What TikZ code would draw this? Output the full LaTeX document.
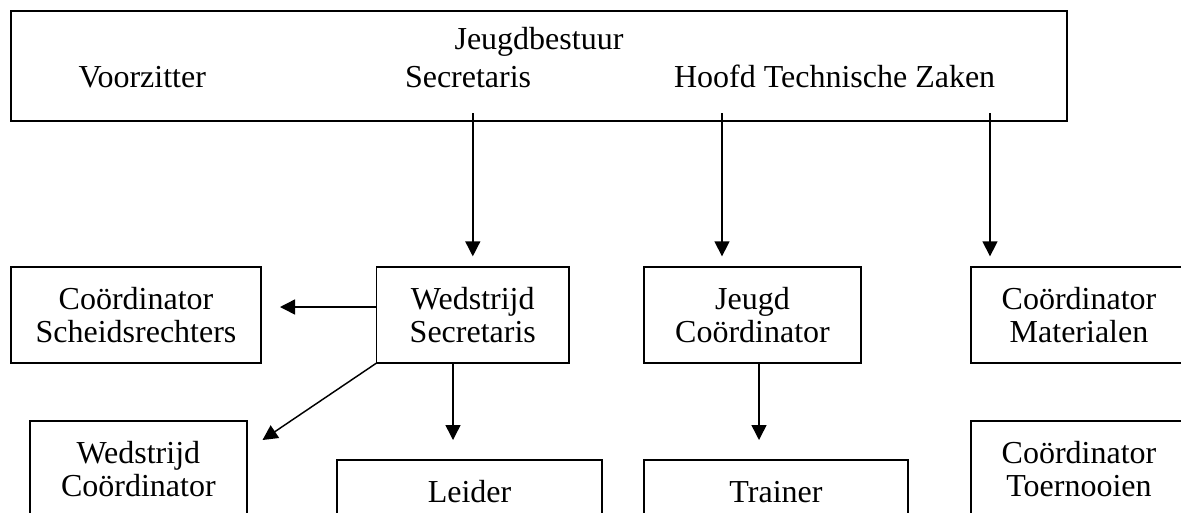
\documentclass[tikz,border=0pt]{standalone}
\usepackage{fontspec}
\setmainfont{Liberation Serif}
\usetikzlibrary{arrows.meta,calc}
\begin{document}
\begin{tikzpicture}[x=0.75pt,y=-0.75pt,
  every node/.style={font=\fontsize{24}{24.75}\selectfont, inner sep=0pt, outer sep=0pt},
  box/.style={draw, line width=1.3pt, align=center, minimum height=72pt},
  topbox/.style={draw, line width=1.6pt},
  lbl/.style={anchor=base west},
  arr/.style={line width=1.1pt, -{Triangle[length=11.25pt,width=11.25pt]}, shorten <=-6pt, shorten >=8pt}
]
\useasboundingbox (0,0) rectangle (1181,512);
\clip (0,0) rectangle (1181,512);

% top box
\node[topbox, minimum width=792pt, minimum height=82.5pt] (top) at (539,66) {};
\node[anchor=base] (jb) at (539,49) {Jeugdbestuur};
\node[lbl] (vz) at (78.5,87) {Voorzitter};
\node[lbl] (sc) at (405,87) {Secretaris};
\node[lbl] (htz) at (674,87) {Hoofd Technische Zaken};

% second row
\node[box, minimum width=187.5pt] (cs) at (136,315) {Coördinator\\Scheidsrechters};
\node[box, minimum width=144.3pt] (ws) at (472.8,315) {Wedstrijd\\Secretaris};
\node[box, minimum width=162.75pt] (jc) at (752.5,315) {Jeugd\\Coördinator};
\node[box, minimum width=162pt] (cm) at (1079,315) {Coördinator\\Materialen};

% third row
\node[box, minimum width=162.5pt] (wc) at (138.35,469) {Wedstrijd\\Coördinator};
\node[box, minimum width=198.75pt] (ld) at (469.5,508) {Leider\\\mbox{}};
\node[box, minimum width=198pt] (tr) at (776,508) {Trainer\\\mbox{}};
\node[box, minimum width=162pt] (ct) at (1079,469) {Coördinator\\Toernooien};

% connectors
\coordinate (t2) at (722,121);
\coordinate (t3) at (990,121);
\draw[arr] (ws.north |- top.south) -- (ws.north);
\draw[arr] (t2) -- (t2 |- jc.north);
\draw[arr] (t3) -- (t3 |- cm.north);

\coordinate (h1) at ($(ws.west)+(0,-8)$);
\draw[arr, shorten <=0pt, shorten >=14.25pt] (h1) -- (h1 -| cs.east);

\coordinate (d1) at (262.5,440);
\draw[arr, shorten <=0pt, shorten >=0pt] (ws.south west) -- (d1);

\coordinate (v1) at ($(ws.south)+(-19.8,0)$);
\draw[arr, shorten <=0pt, shorten >=15pt] (v1) -- (v1 |- ld.north);

\coordinate (v2) at ($(jc.south)+(6.5,0)$);
\draw[arr, shorten <=0pt, shorten >=15pt] (v2) -- (v2 |- tr.north);
\end{tikzpicture}
\end{document}
